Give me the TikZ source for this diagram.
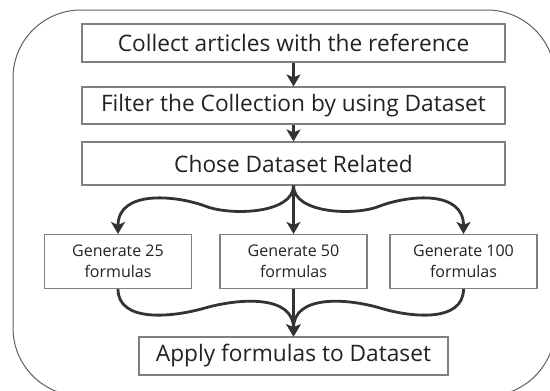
\documentclass[tikz,border=0pt]{standalone}
\usepackage{fontspec}
\setmainfont{Open Sans}
\usetikzlibrary{arrows.meta}
\definecolor{txt}{HTML}{222222}
\definecolor{boxc}{HTML}{808080}
\definecolor{arrc}{HTML}{333333}
\definecolor{outc}{HTML}{606060}
\tikzset{
  bigbox/.style={draw=boxc, line width=1.1pt, minimum width=423pt, text=txt, font=\fontsize{22.7}{27}\selectfont, inner sep=0pt},
  smallbox/.style={draw=boxc, line width=1.1pt, minimum width=147pt, minimum height=54pt, text=txt, align=center, font=\fontsize{16}{20.5}\selectfont, inner sep=0pt},
  arr/.style={draw=arrc, line width=2.8pt, -{Stealth[length=12pt,width=14pt,inset=3pt]}},
}
\begin{document}
\begin{tikzpicture}[x=1pt,y=-1pt]
\useasboundingbox (0,0) rectangle (550,391);
\begin{scope}
\clip (0,0) rectangle (550,391);
\draw[outc, line width=1pt, rounded corners=68pt] (13,10) rectangle (555,396);
\end{scope}
\node[bigbox, minimum height=38pt] (b1) at (293.5,43) {Collect articles with the reference};
\node[bigbox, minimum height=37pt] (b2) at (293.5,105.5) {Filter the Collection by using Dataset};
\node[bigbox, minimum height=43pt] (b3) at (293.5,163.5) {Chose Dataset Related};
\node[smallbox] (b4) at (118,261.5) {Generate 25\\formulas};
\node[smallbox] (b5) at (293.5,261.5) {Generate 50\\formulas};
\node[smallbox] (b6) at (463.5,261.5) {Generate 100\\formulas};
\node[bigbox, minimum width=309pt, minimum height=38pt] (b7) at (293.5,356) {Apply formulas to Dataset};
\draw[arr] (b1) -- (b2);
\draw[arr] (b2) -- (b3);
\draw[arr] (b3) -- (b5);
\draw[arr] (b5) -- (b7);
\draw[arr] (b3.south) .. controls (293.5,214) and (230,216) .. (205,206) .. controls (175,195) and (118,190) .. (b4.north);
\draw[arr] (b3.south) .. controls (293.5,214) and (356,216) .. (380,206) .. controls (409,195) and (463.5,190) .. (b6.north);
\draw[arr] (b4.south) .. controls (118,322) and (170,318) .. (205,308) .. controls (240,298) and (293.5,295) .. (b7.north);
\draw[arr] (b6.south) .. controls (463.5,322) and (413,318) .. (380,308) .. controls (346,298) and (293.5,295) .. (b7.north);
\end{tikzpicture}
\end{document}
